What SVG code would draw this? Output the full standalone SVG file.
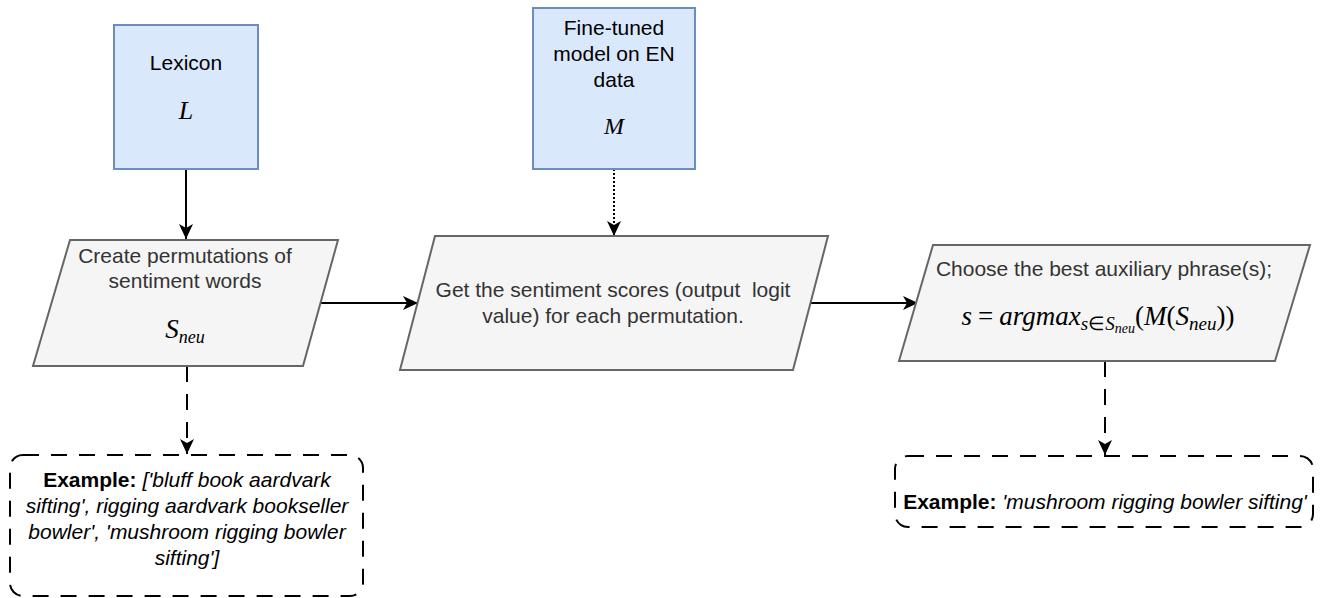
<svg xmlns="http://www.w3.org/2000/svg" width="1328" height="598" viewBox="0 0 1328 598">
<style>
.blue{fill:#dae8fc;stroke:#6c8ebf;stroke-width:2}
.proc{fill:#f5f5f5;stroke:#666666;stroke-width:2}
.t{font-family:"Liberation Sans",Arial,sans-serif;font-size:21px;text-anchor:middle}
.tb{fill:#000}
.tg{fill:#333333}
.m{font-family:"Liberation Serif","Times New Roman",serif;font-style:italic;text-anchor:middle;fill:#000}
.ex{fill:#ffffff;stroke:#000;stroke-width:2;stroke-dasharray:16 12}
.c{fill:none;stroke:#000;stroke-width:2}
.dash{stroke-dasharray:16 12}
.dot{stroke-dasharray:2 2}
</style>
<defs>
<marker id="arr" markerUnits="userSpaceOnUse" markerWidth="16" markerHeight="16" viewBox="0 0 16 16" refX="15" refY="8" orient="auto">
<path d="M0,1 L15,8 L0,15 L4,8 Z" fill="#000"/>
</marker>
</defs>
<rect width="1328" height="598" fill="#ffffff"/>

<g id="connectors">
<path class="c" d="M186,169 L186,239" marker-end="url(#arr)"/>
<path class="c dot" d="M614,169 L614,236" marker-end="url(#arr)"/>
<path class="c" d="M320,303 L418,303" marker-end="url(#arr)"/>
<path class="c" d="M810,303 L918,303" marker-end="url(#arr)"/>
<path class="c dash" d="M187,366 L187,454" marker-end="url(#arr)"/>
<path class="c dash" d="M1105,361 L1105,455" marker-end="url(#arr)"/>
</g>

<g id="lexicon">
<rect class="blue" x="114" y="25" width="144" height="144"/>
<text class="t tb" x="186" y="70">Lexicon</text>
<text class="m" x="186" y="119" font-size="26">L</text>
</g>

<g id="model">
<rect class="blue" x="533" y="8" width="162" height="161"/>
<text class="t tb" x="614" y="35">Fine-tuned</text>
<text class="t tb" x="614" y="61">model on EN</text>
<text class="t tb" x="614" y="87">data</text>
<text class="m" x="614" y="134" font-size="24">M</text>
</g>

<g id="permutations">
<polygon class="proc" points="70,240 338,240 303,366 33,366"/>
<text class="t tg" x="185" y="263">Create permutations of</text>
<text class="t tg" x="185" y="288">sentiment words</text>
<text class="m" x="185" y="338" font-size="27">S<tspan font-size="18" dy="5">neu</tspan></text>
</g>

<g id="scores">
<polygon class="proc" points="435,236 828,236 793,370 400,370"/>
<text class="t tg" x="613" y="297" xml:space="preserve">Get the sentiment scores (output  logit</text>
<text class="t tg" x="613" y="323">value) for each permutation.</text>
</g>

<g id="choose">
<polygon class="proc" points="933,245 1310,245 1275,361 899,361"/>
<text class="t tg" x="1104" y="276">Choose the best auxiliary phrase(s);</text>
<text class="m" x="1098" y="325" font-size="27">s<tspan font-style="normal" dx="6">=</tspan><tspan dx="6">argmax</tspan><tspan font-size="19" dy="5">s<tspan font-style="normal">∈</tspan>S</tspan><tspan font-size="14" dy="3">neu</tspan><tspan font-style="normal" dy="-8">(</tspan>M<tspan font-style="normal">(</tspan>S<tspan font-size="19" dy="5">neu</tspan><tspan font-style="normal" dy="-5">))</tspan></text>
</g>

<g id="example-left">
<rect class="ex" x="10" y="455" width="353" height="141" rx="13"/>
<text class="t tb" x="187" y="487"><tspan font-weight="bold">Example:</tspan> <tspan font-style="italic">['bluff book aardvark</tspan></text>
<text class="t tb" x="187" y="513" font-style="italic">sifting', rigging aardvark bookseller</text>
<text class="t tb" x="187" y="539" font-style="italic">bowler', 'mushroom rigging bowler</text>
<text class="t tb" x="187" y="565" font-style="italic">sifting']</text>
</g>

<g id="example-right">
<rect class="ex" x="895" y="456" width="418" height="71" rx="13"/>
<text class="t tb" x="1105" y="509"><tspan font-weight="bold">Example:</tspan> <tspan font-style="italic">'mushroom rigging bowler sifting'</tspan></text>
</g>
</svg>
